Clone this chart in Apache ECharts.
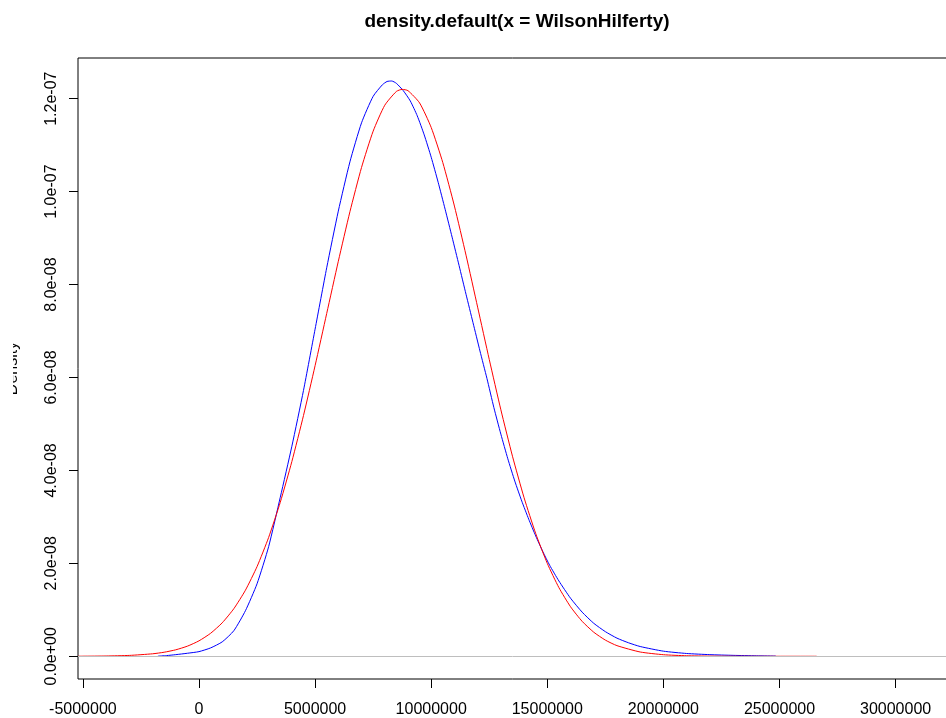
<!DOCTYPE html>
<html>
<head>
<meta charset="utf-8">
<script src="https://cdn.jsdelivr.net/npm/echarts@6/dist/echarts.min.js"></script>
<style>
  html, body { margin: 0; padding: 0; background: #ffffff; }
  #chart { width: 946px; height: 718px; }
</style>
</head>
<body>
<div id="chart"></div>
<script>
// Kernel density estimate (blue) and reference curve (red)
const blueX = [-1770000, -1400000, -1000000, -500000, 0, 500000, 1000000, 1500000, 2000000,
  2500000, 3000000, 3500000, 4000000, 4500000, 5000000, 5500000, 6000000, 6500000, 7000000,
  7500000, 7900000, 8100000, 8300000, 8500000, 8800000, 9100000, 9400000, 9700000, 10000000,
  10300000, 10600000, 10900000, 11200000, 11500000, 11800000, 12100000, 12400000, 12700000,
  13000000, 13300000, 13600000, 13900000, 14200000, 14500000, 14800000, 15100000, 15500000,
  16000000, 16500000, 17000000, 17500000, 18000000, 18500000, 19000000, 20000000, 21000000,
  22000000, 23000000, 24000000, 24840000];
const blueY = [2e-11, 1.5e-10, 3.5e-10, 6.5e-10, 1.0e-9, 1.8e-9, 3.1e-9, 5.5e-9, 9.8e-9,
  1.56e-8, 2.36e-8, 3.42e-8, 4.52e-8, 5.72e-8, 7.04e-8, 8.36e-8, 9.58e-8, 1.064e-7, 1.148e-7,
  1.205e-7, 1.230e-7, 1.237e-7, 1.238e-7, 1.233e-7, 1.217e-7, 1.195e-7, 1.163e-7, 1.122e-7, 1.074e-7,
  1.020e-7, 9.62e-8, 9.02e-8, 8.41e-8, 7.79e-8, 7.18e-8, 6.57e-8, 5.98e-8, 5.35e-8,
  4.78e-8, 4.25e-8, 3.77e-8, 3.34e-8, 2.95e-8, 2.59e-8, 2.26e-8, 1.96e-8, 1.62e-8,
  1.25e-8, 9.5e-9, 7.1e-9, 5.3e-9, 3.9e-9, 2.9e-9, 2.1e-9, 1.1e-9, 6.0e-10,
  3.5e-10, 2.0e-10, 1.0e-10, 4e-11];

const redX = [-5200000, -5000000, -4000000, -3000000, -2000000, -1500000, -1000000, -500000,
  0, 500000, 1000000, 1500000, 2000000, 2500000, 3000000, 3500000, 4000000, 4500000,
  5000000, 5500000, 6000000, 6500000, 7000000, 7500000, 8000000, 8500000, 8750000, 9000000,
  9500000, 10000000, 10500000, 11000000, 11500000, 12000000, 12500000, 13000000, 13500000,
  14000000, 14500000, 15000000, 15500000, 16000000, 16500000, 17000000, 17500000, 18000000,
  19000000, 20000000, 21000000, 22000000, 24000000, 26600000];
const redY = [1.3e-11, 1.7e-11, 5.9e-11, 1.86e-10, 5.33e-10, 8.71e-10, 1.392e-9, 2.175e-9,
  3.318e-9, 4.944e-9, 7.197e-9, 1.0235e-8, 1.4218e-8, 1.9294e-8, 2.558e-8, 3.313e-8, 4.191e-8, 5.180e-8,
  6.254e-8, 7.377e-8, 8.500e-8, 9.567e-8, 1.0520e-7, 1.1300e-7, 1.1858e-7, 1.2155e-7, 1.2200e-7, 1.2172e-7,
  1.1908e-7, 1.1380e-7, 1.0624e-7, 9.689e-8, 8.632e-8, 7.513e-8, 6.388e-8, 5.305e-8, 4.305e-8,
  3.412e-8, 2.642e-8, 1.999e-8, 1.477e-8, 1.066e-8, 7.52e-9, 5.18e-9, 3.48e-9, 2.29e-9,
  9.2e-10, 3.39e-10, 1.13e-10, 3.5e-11, 2e-12, 0];

// Axis ticks and their labels
const xTickValues = [-5000000, 0, 5000000, 10000000, 15000000, 20000000, 25000000, 30000000];
const xTickLabels = ['-5000000', '0', '5000000', '10000000', '15000000', '20000000', '25000000', '30000000'];
const yTickValues = [0, 2e-8, 4e-8, 6e-8, 8e-8, 1e-7, 1.2e-7];
const yTickLabels = ['0.0e+00', '2.0e-08', '4.0e-08', '6.0e-08', '8.0e-08', '1.0e-07', '1.2e-07'];

const titleText = 'density.default(x = WilsonHilferty)';
const yName = 'Density';

const FONT = '"Liberation Sans", Arial, sans-serif';

function pairs(xs, ys) {
  return xs.map((x, i) => [x, ys[i]]);
}
function lookup(values, labels) {
  return function (v) {
    for (let i = 0; i < values.length; i++) {
      const tol = Math.max(Math.abs(values[i]), 1e-12) * 1e-6;
      if (Math.abs(v - values[i]) <= tol) return labels[i];
    }
    return '';
  };
}

const chart = echarts.init(document.getElementById('chart'), null, { renderer: 'canvas' });
chart.setOption({
  animation: false,
  backgroundColor: '#ffffff',
  title: {
    text: titleText,
    left: 512,
    top: 7,
    textAlign: 'center',
    textStyle: { fontFamily: FONT, fontSize: 19, fontWeight: 'bold', color: '#000000' }
  },
  grid: {
    left: 78, top: 58, width: 878, height: 621,
    outerBoundsMode: 'none',
    containLabel: false,
    show: true, borderColor: '#000000', borderWidth: 1, backgroundColor: 'transparent'
  },
  // the page edge trims the outer margin text on the left
  graphic: [{
    type: 'rect',
    left: 0, top: 0, z: 100,
    shape: { x: 0, y: 0, width: 13, height: 718 },
    style: { fill: '#ffffff' },
    silent: true
  }],
  xAxis: {
    type: 'value',
    min: -5210000,
    max: 32600000,
    axisLine: { show: false, onZero: false },
    splitLine: { show: false },
    axisTick: {
      show: true, length: 9, customValues: xTickValues,
      lineStyle: { color: '#000000', width: 1 }
    },
    axisLabel: {
      customValues: xTickValues,
      formatter: lookup(xTickValues, xTickLabels),
      margin: 23,
      fontFamily: FONT, fontSize: 16, color: '#000000'
    }
  },
  yAxis: {
    type: 'value',
    min: -4.89e-9,
    max: 1.2875e-7,
    name: yName,
    nameLocation: 'middle',
    nameRotate: 90,
    nameGap: 57,
    nameTextStyle: { fontFamily: FONT, fontSize: 16, color: '#000000' },
    axisLine: { show: false, onZero: false },
    splitLine: { show: false },
    axisTick: {
      show: true, length: 9, customValues: yTickValues,
      lineStyle: { color: '#000000', width: 1 }
    },
    axisLabel: {
      customValues: yTickValues,
      formatter: lookup(yTickValues, yTickLabels),
      rotate: 90,
      margin: 18,
      fontFamily: FONT, fontSize: 16, color: '#000000'
    }
  },
  series: [
    {
      name: 'kde',
      type: 'line',
      data: pairs(blueX, blueY),
      symbol: 'none',
      smooth: 0.2,
      lineStyle: { color: '#0000ff', width: 1 },
      markLine: {
        silent: true,
        symbol: 'none',
        label: { show: false },
        lineStyle: { color: '#bebebe', width: 1, type: 'solid' },
        data: [{ yAxis: 0 }]
      }
    },
    {
      name: 'normal',
      type: 'line',
      data: pairs(redX, redY),
      symbol: 'none',
      smooth: 0.2,
      lineStyle: { color: '#ff0000', width: 1 }
    }
  ]
});
</script>
</body>
</html>
